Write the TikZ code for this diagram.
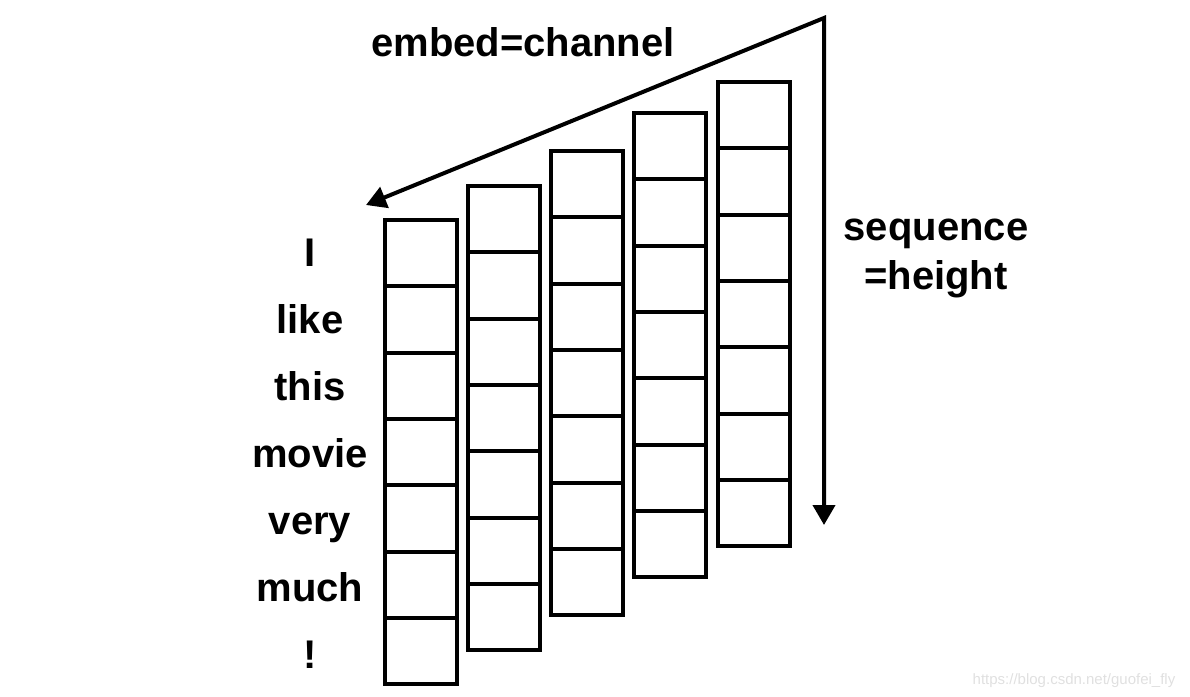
\documentclass[tikz,border=0pt]{standalone}
\usepackage{fontspec}
\setmainfont{Liberation Sans}
\usetikzlibrary{arrows.meta}
\begin{document}
\begin{tikzpicture}[x=1pt,y=-1pt,
  cell/.style={draw, line width=4pt, minimum width=72pt, minimum height=66.3pt, inner sep=0pt, outer sep=0pt},
  word/.style={anchor=base, inner sep=0pt, font=\fontsize{40}{46}\selectfont\bfseries},
  arr/.style={line width=4pt, line join=miter, {Triangle[width=22pt,length=20pt]}-{Triangle[width=22pt,length=20pt]}},
  wmark/.style={anchor=base, inner sep=0pt, text=black!12, font=\fontsize{15}{18}\selectfont}]
\useasboundingbox (0,0) rectangle (1190,696);
% columns of cells
\foreach \k/\x/\t in {0/421/220,1/504/186,2/587/151,3/670/113,4/754/82}{
  \foreach \j in {0,...,6}{
    \node[cell] (c\k-\j) at (\x,\t+33.15+66.3*\j) {};
  }
}
% words
\foreach \w [count=\i from 0] in {I,like,this,movie,very,much,!}{
  \node[word] (w\i) at (310,266+67*\i) {\w};
}
% arrows
\coordinate (corner) at (824,18);
\coordinate (tipL) at (366,205);
\coordinate (tipD) at (824,525);
\draw[arr] (tipL) -- (corner) -- (tipD);
% labels
\node[word] (embed) at (523,56) {embed=channel};
\node[word] (seq) at (936,240) {sequence};
\node[word] (hgt) at (936,289) {=height};
\node[wmark] (wm) at (1074,684) {https://blog.csdn.net/guofei\_fly};
\end{tikzpicture}
\end{document}
